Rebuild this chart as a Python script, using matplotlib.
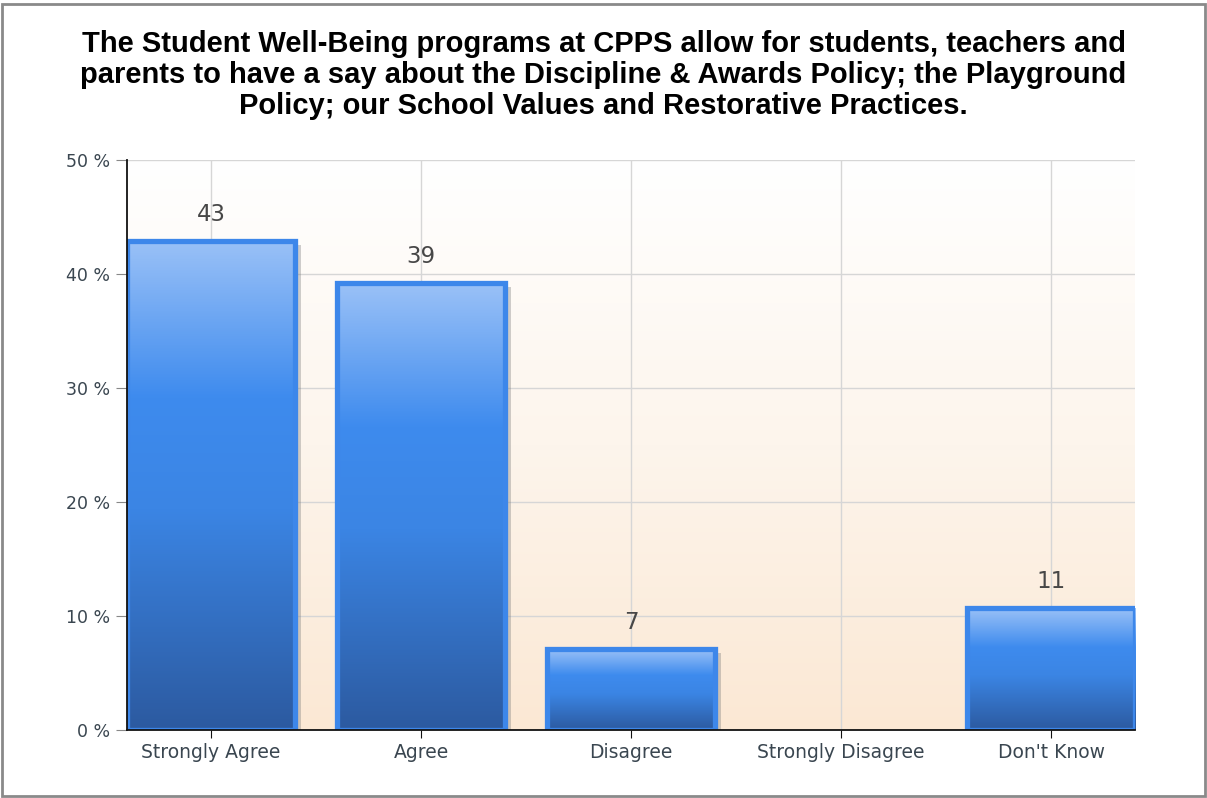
import numpy as np
import matplotlib
matplotlib.use("Agg")
import matplotlib.pyplot as plt
import matplotlib.patheffects as pe
from matplotlib.colors import LinearSegmentedColormap
from matplotlib.patches import Rectangle

# data
categories = ["Strongly Agree", "Agree", "Disagree", "Strongly Disagree", "Don't Know"]
values = [42.9, 39.2, 7.1, 0.0, 10.7]
labels = ["43", "39", "7", "", "11"]
yticks = [0, 10, 20, 30, 40, 50]
title = ("The Student Well-Being programs at CPPS allow for students, teachers and\n"
         "parents to have a say about the Discipline & Awards Policy; the Playground\n"
         "Policy; our School Values and Restorative Practices.")

fig = plt.figure(figsize=(12.07, 7.98), dpi=100)
fig.patch.set_facecolor("white")
fig.patches.append(Rectangle((0.002, 0.002), 0.996, 0.993, transform=fig.transFigure,
                             fill=False, edgecolor="#8a8a8a", linewidth=2))

ax = fig.add_axes([127/1207, 68/798, 1008/1207, 570/798])
x = np.arange(len(categories))
ax.set_xlim(-0.4, len(categories) - 0.6)
ax.set_ylim(0, 50)

# background gradient white -> peach
bg = LinearSegmentedColormap.from_list("bg", ["#fbe8d4", "#fdf5ec", "#ffffff"])
ax.imshow(np.linspace(0, 1, 256).reshape(-1, 1), cmap=bg, aspect="auto",
          extent=(-0.4, len(categories) - 0.6, 0, 50), origin="lower", zorder=0)

ax.set_yticks(yticks)
ax.set_yticklabels([f"{t} %" for t in yticks])
ax.set_xticks(x)
ax.set_xticklabels(categories)
ax.grid(True, color="#d6d6d6", linewidth=1, zorder=1)
ax.set_axisbelow(True)

for s in ["top", "right"]:
    ax.spines[s].set_visible(False)
for s in ["left", "bottom"]:
    ax.spines[s].set_color("#111111")
    ax.spines[s].set_linewidth(1.3)
    ax.spines[s].set_zorder(5)

ax.tick_params(axis="y", length=8, color="#888888", labelsize=12.5, labelcolor="#3a4650", pad=4)
ax.tick_params(axis="x", length=6, color="#111111", labelsize=13.5, labelcolor="#3a4650", pad=3)

bars = ax.bar(x, values, width=0.8, facecolor="none", edgecolor="#3d87ea",
              linewidth=3.8, zorder=4)

barcm = LinearSegmentedColormap.from_list(
    "bar", [(0.0, "#2c5aa0"), (0.45, "#3b85e4"), (0.68, "#3e8bee"), (1.0, "#9ac1f7")])
grad = np.linspace(0, 1, 256).reshape(-1, 1)
for b in bars:
    h = b.get_height()
    if h <= 0:
        b.set_visible(False)
        continue
    # soft shadow to the right / bottom
    sh = Rectangle((b.get_x(), 0), b.get_width(), h, facecolor="none", edgecolor="none",
                   zorder=2, path_effects=[pe.SimplePatchShadow(offset=(4, -3), shadow_rgbFace="#777777", alpha=0.35)])
    ax.add_patch(sh)
    im = ax.imshow(grad, cmap=barcm, aspect="auto", origin="lower",
                   extent=(b.get_x(), b.get_x() + b.get_width(), 0, h), zorder=3)
    im.set_clip_path(b)

for xi, v, lab in zip(x, values, labels):
    if lab:
        ax.text(xi, v + 2.3, lab, ha="center", va="center", fontsize=16.5,
                color="#474747", zorder=6)

fig.text(0.5, 1 - 75/798, title, ha="center", va="center", fontsize=21,
         fontweight="bold", family="Liberation Sans", color="black", linespacing=1.12)

fig.savefig("out.png", dpi=100)
